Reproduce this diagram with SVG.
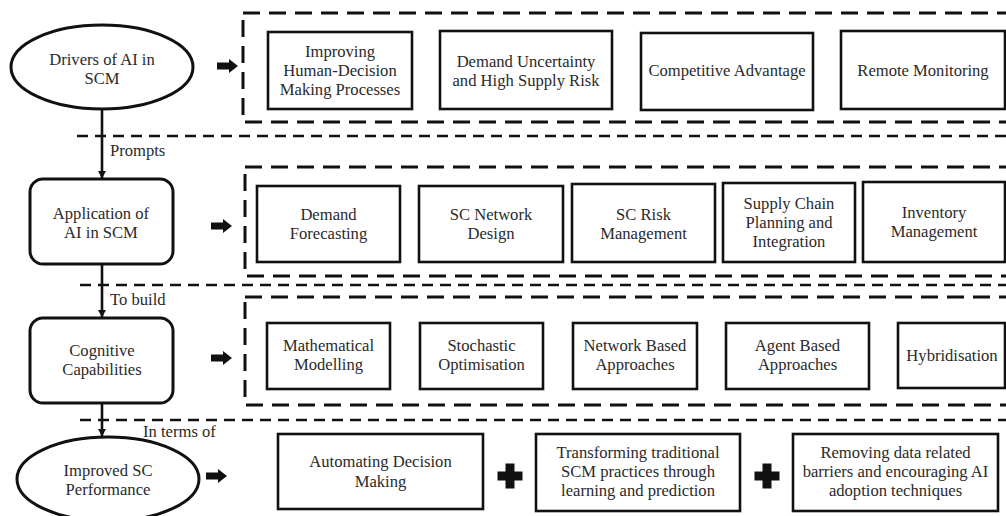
<svg xmlns="http://www.w3.org/2000/svg" width="1006" height="516" viewBox="0 0 1006 516">
<style>
text{font-family:"Liberation Serif","DejaVu Serif",serif;font-size:16.6px;fill:#2a2a2a;text-anchor:middle}
.lbl{text-anchor:start}
.box{fill:#fff;stroke:#111;stroke-width:2.6}
.dbox{fill:none;stroke:#111;stroke-width:3;stroke-dasharray:17 9}
.sep{fill:none;stroke:#111;stroke-width:2.6;stroke-dasharray:11 7}
.term{fill:#fff;stroke:#111;stroke-width:3}
.conn{fill:none;stroke:#111;stroke-width:2.6}
</style>
<defs>
<marker id="ah" viewBox="0 0 10 10" refX="9" refY="5" markerWidth="3.2" markerHeight="3.2" orient="auto" markerUnits="strokeWidth">
<path d="M0,0 L10,5 L0,10 Z" fill="#111"/>
</marker>
<path id="barrow" d="M0,-3.5 H12 V-7 L21,0 L12,7 V3.5 H0 Z" fill="#111"/>
<path id="plus" d="M-4.5,-12.5 H4.5 V-4.5 H12.5 V4.5 H4.5 V12.5 H-4.5 V4.5 H-12.5 V-4.5 H-4.5 Z" fill="#111"/>
</defs>
<rect width="1006" height="516" fill="#fff"/>

<g id="separators">
<line class="sep" x1="77" y1="136" x2="1006" y2="136"/>
<line class="sep" x1="80" y1="285" x2="1006" y2="285"/>
<line class="sep" x1="80" y1="420" x2="1006" y2="420"/>
</g>

<g id="groups">
<rect class="dbox" x="243" y="13" width="800" height="109"/>
<rect class="dbox" x="245" y="167" width="800" height="109"/>
<rect class="dbox" x="245" y="297" width="800" height="108"/>
</g>

<g id="connectors">
<line class="conn" x1="102" y1="110" x2="102" y2="178" marker-end="url(#ah)"/>
<line class="conn" x1="102" y1="264" x2="102" y2="317" marker-end="url(#ah)"/>
<line class="conn" x1="102" y1="403" x2="102" y2="436" marker-end="url(#ah)"/>
<use href="#barrow" transform="translate(217,66)"/>
<use href="#barrow" transform="translate(211,226)"/>
<use href="#barrow" transform="translate(211,358)"/>
<use href="#barrow" transform="translate(206,476)"/>
<text class="lbl" x="110" y="156">Prompts</text>
<text class="lbl" x="110" y="305">To build</text>
<text class="lbl" x="143" y="437">In terms of</text>
</g>

<g id="drivers">
<ellipse class="term" cx="102" cy="67" rx="91" ry="42"/>
<text x="102" y="65">Drivers of AI in</text>
<text x="102" y="84">SCM</text>
</g>
<g id="application">
<rect class="term" x="30" y="179" width="143" height="85" rx="13"/>
<text x="101" y="219">Application of</text>
<text x="101" y="238">AI in SCM</text>
</g>
<g id="cognitive">
<rect class="term" x="30" y="318" width="143" height="85" rx="13"/>
<text x="102" y="356">Cognitive</text>
<text x="102" y="375">Capabilities</text>
</g>
<g id="improved">
<ellipse class="term" cx="108" cy="479" rx="91" ry="42"/>
<text x="108" y="476">Improved SC</text>
<text x="108" y="495">Performance</text>
</g>

<g id="d1"><rect class="box" x="268" y="32" width="144" height="77"/>
<text x="340" y="57">Improving</text><text x="340" y="76">Human-Decision</text><text x="340" y="95">Making Processes</text></g>
<g id="d2"><rect class="box" x="440" y="31" width="172" height="78"/>
<text x="526" y="66.5">Demand Uncertainty</text><text x="526" y="85.5">and High Supply Risk</text></g>
<g id="d3"><rect class="box" x="641" y="33" width="172" height="77"/>
<text x="727" y="76">Competitive Advantage</text></g>
<g id="d4"><rect class="box" x="841" y="31" width="164" height="78"/>
<text x="923" y="76">Remote Monitoring</text></g>

<g id="a1"><rect class="box" x="257" y="186" width="143" height="76"/>
<text x="328.5" y="219.5">Demand</text><text x="328.5" y="238.5">Forecasting</text></g>
<g id="a2"><rect class="box" x="419" y="186" width="144" height="76"/>
<text x="491" y="219.5">SC Network</text><text x="491" y="238.5">Design</text></g>
<g id="a3"><rect class="box" x="572" y="184" width="143" height="78"/>
<text x="643.5" y="219.5">SC Risk</text><text x="643.5" y="238.5">Management</text></g>
<g id="a4"><rect class="box" x="723" y="183" width="132" height="79"/>
<text x="789" y="209">Supply Chain</text><text x="789" y="228">Planning and</text><text x="789" y="247">Integration</text></g>
<g id="a5"><rect class="box" x="863" y="182" width="142" height="80"/>
<text x="934" y="218">Inventory</text><text x="934" y="237">Management</text></g>

<g id="c1"><rect class="box" x="267" y="323" width="123" height="66"/>
<text x="328.5" y="351">Mathematical</text><text x="328.5" y="370">Modelling</text></g>
<g id="c2"><rect class="box" x="420" y="323" width="123" height="66"/>
<text x="481.5" y="351">Stochastic</text><text x="481.5" y="370">Optimisation</text></g>
<g id="c3"><rect class="box" x="573" y="323" width="124" height="66"/>
<text x="635" y="351">Network Based</text><text x="635" y="370">Approaches</text></g>
<g id="c4"><rect class="box" x="726" y="323" width="143" height="66"/>
<text x="797.5" y="351">Agent Based</text><text x="797.5" y="370">Approaches</text></g>
<g id="c5"><rect class="box" x="898" y="323" width="107" height="65"/>
<text x="952" y="361">Hybridisation</text></g>

<g id="p1"><rect class="box" x="278" y="434" width="205" height="75"/>
<text x="380.5" y="467">Automating Decision</text><text x="380.5" y="487">Making</text></g>
<g id="plus1"><use href="#plus" transform="translate(510,476)"/></g>
<g id="p2"><rect class="box" x="536" y="434" width="204" height="77"/>
<text x="638" y="458">Transforming traditional</text><text x="638" y="477">SCM practices through</text><text x="638" y="496">learning and prediction</text></g>
<g id="plus2"><use href="#plus" transform="translate(767,476)"/></g>
<g id="p3"><rect class="box" x="793" y="434" width="205" height="77"/>
<text x="895.5" y="458">Removing data related</text><text x="895.5" y="477">barriers and encouraging AI</text><text x="895.5" y="496">adoption techniques</text></g>
</svg>
